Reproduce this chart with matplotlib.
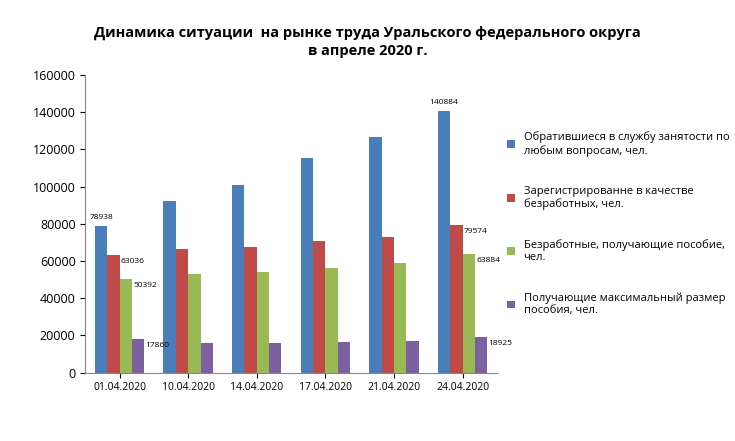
import matplotlib.pyplot as plt
import numpy as np

plt.rcParams['font.family'] = 'Open Sans'

dates = ["01.04.2020", "10.04.2020", "14.04.2020", "17.04.2020", "21.04.2020", "24.04.2020"]
obrativshiesya = [78938, 92000, 101000, 115500, 126500, 140884]
zaregistrirovannye = [63036, 66500, 67500, 70500, 73000, 79574]
bezrabotnye = [50392, 53000, 54000, 56000, 59000, 63884]
maksimalnyi = [17860, 16000, 16000, 16500, 17000, 18925]

names = ["Обратившиеся в службу занятости по\nлюбым вопросам, чел.",
         "Зарегистрированне в качестве\nбезработных, чел.",
         "Безработные, получающие пособие,\nчел.",
         "Получающие максимальный размер\nпособия, чел."]
colors = ["#4a7ebb", "#be4b48", "#98b954", "#7d60a0"]
series = [obrativshiesya, zaregistrirovannye, bezrabotnye, maksimalnyi]

fig = plt.figure(figsize=(7.35, 4.41), dpi=100)
ax = fig.add_axes([0.116, 0.155, 0.56, 0.675])

x = np.arange(len(dates))
w = 0.18
for i, (s, c, n) in enumerate(zip(series, colors, names)):
    pos = x + (i - 1.5) * w
    ax.bar(pos, s, w, color=c, label=n)
    # labels on first and last group
    for j in (0, len(dates) - 1):
        if i == 0:
            ax.text(pos[j], s[j] + 2500, str(s[j]), fontsize=6, ha='center', va='bottom')
        else:
            ax.text(pos[j] + w / 2 + 0.02, s[j] - 3500, str(s[j]), fontsize=6, ha='left', va='center')

ax.set_xlim(-0.5, len(dates) - 0.5)
ax.set_ylim(0, 160000)
ax.set_yticks(np.arange(0, 160001, 20000))
ax.set_xticks(x)
ax.set_xticklabels(dates, fontsize=7.5)
ax.tick_params(axis='y', labelsize=9)
for sp in ['top', 'right']:
    ax.spines[sp].set_visible(False)
for sp in ['left', 'bottom']:
    ax.spines[sp].set_color('#888888')

fig.text(0.5, 0.905, "Динамика ситуации  на рынке труда Уральского федерального округа\nв апреле 2020 г.",
         ha='center', va='center', fontsize=10.5, fontweight='bold', linespacing=1.4)

ax.legend(loc='center left', bbox_to_anchor=(1.0, 0.5), frameon=False, fontsize=8,
          handlelength=0.7, handleheight=0.7, labelspacing=2.6)

fig.savefig("out.png", dpi=100)
